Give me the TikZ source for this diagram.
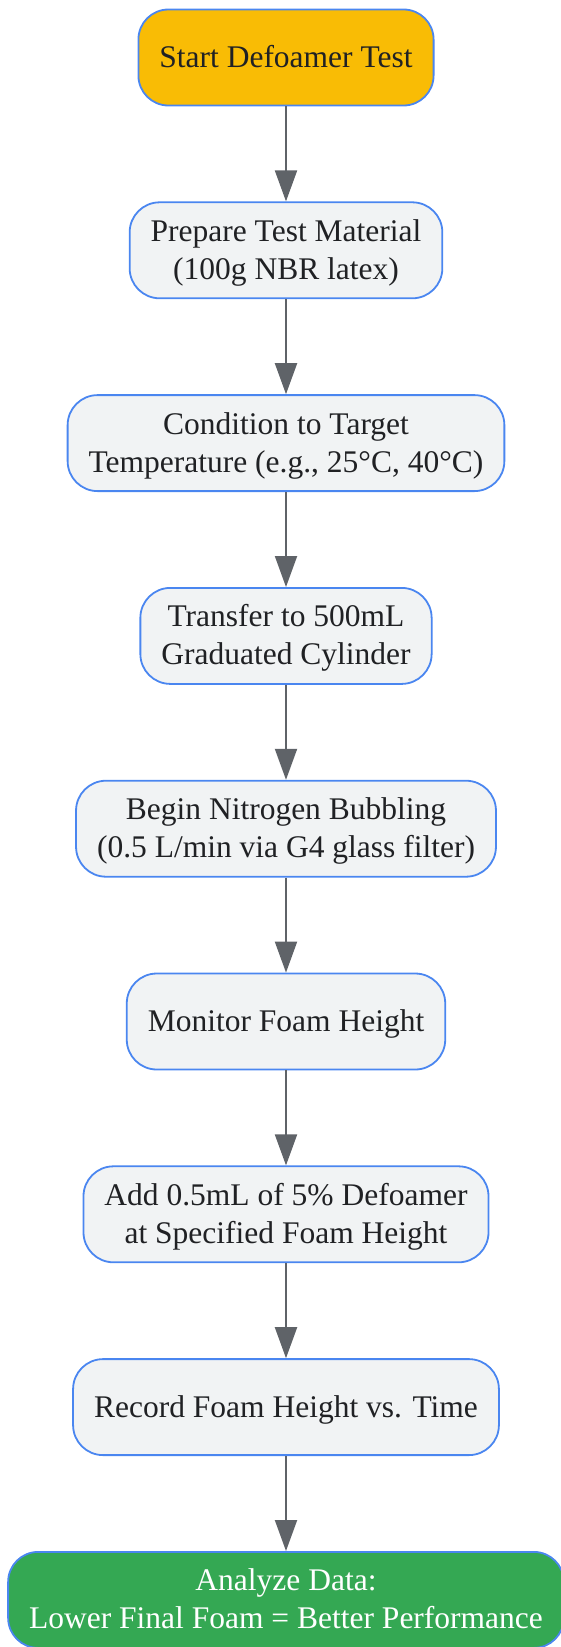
\documentclass[tikz,border=0pt]{standalone}
\usepackage{fontspec}
\setmainfont{Liberation Serif}
\usepackage{xcolor}
\usepackage{tikz}
\usetikzlibrary{arrows.meta,positioning}

\definecolor{startyellow}{HTML}{F9BC05}
\definecolor{stepgray}{HTML}{F1F3F4}
\definecolor{edgeblue}{HTML}{4A86F0}
\definecolor{arrowgray}{HTML}{5F6368}
\definecolor{textdark}{HTML}{202124}
\definecolor{endgreen}{HTML}{34A853}

\begin{document}
\begin{tikzpicture}[
      box_base/.style={
         rectangle,
         rounded corners=30pt,
         draw=edgeblue,
         line width=1.8pt,
         align=center,
         inner xsep=21pt,
         inner ysep=0pt,
         minimum height=96pt,
         text height=29pt,
         text depth=9pt,
         font=\fontsize{31.5}{38}\selectfont},
      two_lines/.style={
         text height=67pt},
      box_start/.style={
         box_base,
         fill=startyellow,
         text=textdark},
      box_step/.style={
         box_base,
         fill=stepgray,
         text=textdark},
      box_end/.style={
         box_base,
         fill=endgreen,
         text=white},
      arrow_gray/.style={
         draw=arrowgray,
         line width=2pt,
         -{Triangle[width=22pt,length=31pt]},
      },
      node distance=95pt,
]
      \useasboundingbox (0,0) rectangle (561pt,-1647pt);

      %start
      \node[box_start] (start) at (286pt,-57.5pt) {Start Defoamer Test};

      \node[box_step,two_lines,below=of start] (prep) {Prepare Test Material\\(100g NBR latex)};
      \node[box_step,two_lines,below=of prep] (cond) {Condition to Target\\Temperature (e.g., 25°C, 40°C)};
      \node[box_step,two_lines,below=of cond] (transfer) {Transfer to 500mL\\Graduated Cylinder};
      \node[box_step,two_lines,below=of transfer] (bubble) {Begin Nitrogen Bubbling\\(0.5 L/min via G4 glass filter)};
      \node[box_step,below=of bubble] (monitor) {Monitor Foam Height};
      \node[box_step,two_lines,below=of monitor] (add) {Add 0.5mL of 5\% Defoamer\\at Specified Foam Height};
      \node[box_step,below=of add] (record) {Record Foam Height vs. Time};

      %end
      \node[box_end,two_lines,below=of record] (analyze) {Analyze Data:\\Lower Final Foam = Better Performance};

    \foreach \i/\j in {% from/to
      start/prep,
      prep/cond,
      cond/transfer,
      transfer/bubble,
      bubble/monitor,
      monitor/add,
      add/record,
      record/analyze}
      \draw [arrow_gray] (\i) -- (\j);

\end{tikzpicture}
\end{document}
